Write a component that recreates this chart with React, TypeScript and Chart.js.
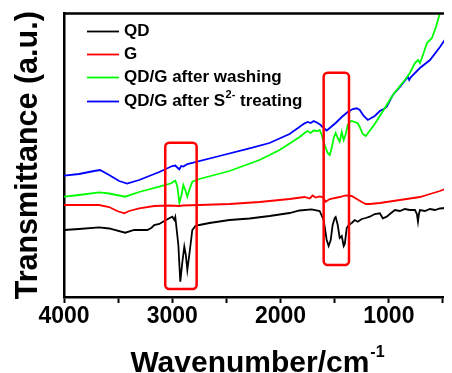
import React, { useEffect, useRef } from "react";
import { Chart, registerables } from "chart.js";

Chart.register(...registerables);

// ---------- data (wavenumber in cm-1, transmittance in arbitrary units) ----------
const tickValues = [4000, 3500, 3000, 2500, 2000, 1500, 1000, 500];
const majorTicks = [4000, 3000, 2000, 1000];

const qdWavenumber = [4000, 3861, 3676, 3583, 3435, 3352, 3231, 3194, 3167, 3120, 3074, 3028, 3000, 2981, 2972, 2954, 2944, 2926, 2907, 2889, 2875, 2861, 2843, 2815, 2787, 2750, 2657, 2472, 2287, 2102, 1917, 1824, 1713, 1639, 1602, 1574, 1556, 1537, 1519, 1500, 1491, 1472, 1454, 1435, 1417, 1407, 1389, 1370, 1343, 1315, 1287, 1250, 1213, 1176, 1130, 1083, 1056, 1019, 991, 944, 898, 852, 806, 759, 741, 731, 722, 713, 667, 620, 574, 528, 481, 426];
const qdSignal = [67, 68, 69.7, 68.5, 64.3, 67, 67, 69, 72, 73, 76, 78.7, 80.3, 77, 80, 62, 52, 15.3, 35, 50.3, 42, 27, 42, 67, 71, 72, 74, 77, 78.5, 81, 84, 86.5, 87.7, 86, 77, 57, 51, 57, 72, 79, 80, 72, 59, 61, 51, 53, 69, 72, 74, 77, 75.3, 78, 79, 80.3, 83, 83.7, 78.7, 80.3, 83, 87, 86, 88, 87, 87, 83, 75.3, 83, 87, 86, 88, 87, 88.5, 89, 88.7];

const gWavenumber = [4000, 3861, 3676, 3583, 3509, 3444, 3398, 3306, 3167, 3028, 2935, 2907, 2750, 2472, 2194, 1917, 1778, 1731, 1704, 1676, 1639, 1611, 1583, 1546, 1454, 1398, 1343, 1296, 1250, 1213, 1176, 1083, 898, 713, 620, 528, 481, 426];
const gSignal = [92, 92, 92, 90, 86, 83.7, 86, 88.7, 91, 91.5, 91, 91.5, 92, 93, 95, 98, 100, 98.5, 101.5, 99.5, 100.5, 100, 95.3, 98, 100, 101.5, 101, 98, 95, 93, 93, 94, 97, 100, 103, 106, 108, 113];

const washWavenumber = [4000, 3861, 3676, 3583, 3435, 3306, 3120, 3009, 2981, 2972, 2954, 2935, 2917, 2898, 2880, 2861, 2843, 2815, 2750, 2472, 2194, 2009, 1824, 1778, 1750, 1722, 1694, 1657, 1639, 1620, 1593, 1565, 1546, 1528, 1509, 1491, 1472, 1454, 1435, 1417, 1398, 1380, 1361, 1343, 1315, 1287, 1269, 1241, 1213, 1130, 1037, 963, 898, 852, 806, 759, 731, 713, 685, 648, 602, 565, 528, 500];
const washSignal = [100.3, 102, 104.7, 103.5, 100.3, 105, 110.3, 113.7, 116, 116.3, 111, 94.3, 101, 112, 107, 100.3, 107, 115.3, 118, 126, 137, 147, 160, 164, 166, 164, 166.5, 166, 167, 162, 152, 144, 142, 149, 159, 164, 159, 155.3, 165, 157, 163, 172, 175, 176, 175, 173.7, 170, 163, 161, 173, 189, 202, 211, 217, 224, 234, 237, 234, 242, 254, 259, 270, 284, 293];

const s2Wavenumber = [4000, 3861, 3722, 3667, 3583, 3491, 3417, 3306, 3120, 3000, 2972, 2954, 2935, 2917, 2898, 2861, 2806, 2565, 2287, 2102, 1917, 1778, 1750, 1722, 1694, 1657, 1630, 1602, 1574, 1546, 1491, 1435, 1380, 1333, 1296, 1269, 1232, 1194, 1130, 1083, 1037, 1019, 963, 898, 824, 812, 796, 713, 620, 528, 472, 426];
const s2Signal = [121.3, 123, 126, 127, 122, 116, 113.5, 117, 125, 131, 131.5, 129.5, 127.7, 131, 130.5, 133, 134.3, 141, 148.7, 154, 163, 173.7, 175, 174, 176, 174, 172, 169, 166.5, 169, 174, 180, 185, 188, 188.7, 187, 181, 177, 181, 186, 188.7, 190.3, 202, 210, 220, 217, 220, 229, 237, 250, 259, 269];

const seriesNames = ["QD", "G", "QD/G after washing", "QD/G after S"];
const seriesSup = ["", "", "", "2-"];
const seriesTail = ["", "", "", " treating"];
const seriesColors = ["#000000", "#ff0000", "#00ff00", "#0000ff"];

// highlighted regions (wavenumber range, transmittance range)
const boxWnFrom = [3065, 1602];
const boxWnTo = [2775, 1368];
const boxTop = [154.3, 224.3];
const boxBottom = [8, 32];

const xTitleMain = "Wavenumber/cm";
const xTitleSup = "-1";
const yTitle = "Transmittance (a.u.)";

const FONT = '"Liberation Sans", Arial, Helvetica, sans-serif';

const overlayPlugin = {
  id: "overlay",
  afterDatasetsDraw(chart: any) {
    const { ctx, chartArea: a, scales } = chart;
    const xs = scales.x;
    const ys = scales.y;
    ctx.save();
    // red boxes
    ctx.strokeStyle = "#ff0000";
    ctx.lineWidth = 2.5;
    for (let i = 0; i < boxWnFrom.length; i++) {
      const x1 = xs.getPixelForValue(boxWnFrom[i]);
      const x2 = xs.getPixelForValue(boxWnTo[i]);
      const y1 = ys.getPixelForValue(boxTop[i]);
      const y2 = ys.getPixelForValue(boxBottom[i]);
      ctx.beginPath();
      ctx.roundRect(Math.min(x1, x2), y1, Math.abs(x2 - x1), y2 - y1, 4);
      ctx.stroke();
    }
    // top & right frame
    ctx.strokeStyle = "#000";
    ctx.lineWidth = 2.5;
    ctx.beginPath();
    ctx.moveTo(a.left, a.top);
    ctx.lineTo(a.right, a.top);
    ctx.stroke();
    ctx.strokeStyle = "#777";
    ctx.lineWidth = 1.2;
    ctx.beginPath();
    ctx.moveTo(a.right, a.top);
    ctx.lineTo(a.right, a.bottom);
    ctx.stroke();

    // legend
    const rows = [22.5, 45.5, 68.5, 92.5];
    ctx.textBaseline = "alphabetic";
    ctx.textAlign = "left";
    for (let i = 0; i < seriesNames.length; i++) {
      const by = a.top + rows[i];
      ctx.strokeStyle = seriesColors[i];
      ctx.lineWidth = 1.8;
      ctx.beginPath();
      ctx.moveTo(a.left + 23, by - 4.5);
      ctx.lineTo(a.left + 55, by - 4.5);
      ctx.stroke();
      ctx.fillStyle = "#000";
      ctx.font = "bold 17px " + FONT;
      let tx = a.left + 60;
      ctx.fillText(seriesNames[i], tx, by);
      tx += ctx.measureText(seriesNames[i]).width;
      if (seriesSup[i]) {
        ctx.font = "bold 11px " + FONT;
        ctx.fillText(seriesSup[i], tx + 0.5, by - 8);
        tx += ctx.measureText(seriesSup[i]).width + 0.5;
      }
      if (seriesTail[i]) {
        ctx.font = "bold 17px " + FONT;
        ctx.fillText(seriesTail[i], tx, by);
      }
    }

    // x-axis title with superscript
    ctx.fillStyle = "#000";
    ctx.font = "bold 30px " + FONT;
    const wMain = ctx.measureText(xTitleMain).width;
    ctx.font = "bold 16px " + FONT;
    const wSup = ctx.measureText(xTitleSup).width;
    const cx = (a.left + a.right) / 2;
    const sx = cx - (wMain + wSup + 1) / 2;
    const base = a.bottom + 75;
    ctx.font = "bold 30px " + FONT;
    ctx.fillText(xTitleMain, sx, base);
    ctx.font = "bold 16px " + FONT;
    ctx.fillText(xTitleSup, sx + wMain + 1, base - 15);
    ctx.restore();
  },
};

function toPoints(xs: number[], ys: number[]) {
  return xs.map((x, i) => ({ x, y: ys[i] }));
}

export default function App() {
  const ref = useRef<HTMLCanvasElement | null>(null);
  useEffect(() => {
    document.documentElement.style.overflow = "hidden";
    document.body.style.overflow = "hidden";
    const canvas = ref.current;
    if (!canvas) return;
    const datasets = [
      toPoints(qdWavenumber, qdSignal),
      toPoints(gWavenumber, gSignal),
      toPoints(washWavenumber, washSignal),
      toPoints(s2Wavenumber, s2Signal),
    ].map((data, i) => ({
      label: seriesNames[i] + seriesSup[i] + seriesTail[i],
      data,
      borderColor: seriesColors[i],
      backgroundColor: seriesColors[i],
      borderWidth: 1.8,
      pointRadius: 0,
      tension: 0,
      fill: false,
    }));
    const chart = new Chart(canvas, {
      type: "line",
      data: { datasets },
      options: {
        animation: false,
        responsive: false,
        maintainAspectRatio: false,
        layout: { padding: { top: 5.5, right: 1, bottom: 0, left: 0 } },
        plugins: { legend: { display: false }, tooltip: { enabled: false } },
        scales: {
          x: {
            type: "linear",
            reverse: true,
            min: 426,
            max: 4000,
            afterBuildTicks: (s: any) => {
              s.ticks = tickValues.map((v) => ({ value: v }));
            },
            afterFit: (s: any) => {
              s.height = 76;
            },
            border: { display: true, color: "#000", width: 2.5 },
            grid: {
              display: true,
              drawOnChartArea: false,
              drawTicks: true,
              tickLength: 6,
              tickWidth: 2,
              tickColor: "#000",
            },
            ticks: {
              autoSkip: false,
              maxRotation: 0,
              minRotation: 0,
              padding: 0,
              color: "#000",
              font: { family: FONT, size: 23, weight: "bold" },
              callback: (v: any) => (majorTicks.includes(Number(v)) ? String(v) : ""),
            },
          },
          y: {
            type: "linear",
            min: 0,
            max: 283.5,
            afterFit: (s: any) => {
              s.width = 56;
            },
            border: { display: true, color: "#000", width: 2.5 },
            grid: { display: false },
            ticks: { display: false },
            title: {
              display: true,
              text: yTitle,
              color: "#000",
              padding: { top: 2, bottom: 0 },
              font: { family: FONT, size: 30.5, weight: "bold", lineHeight: 1.2 },
            },
          },
        },
      },
      plugins: [overlayPlugin],
    } as any);
    return () => chart.destroy();
  }, []);
  return (
    <div style={{ width: 444, height: 365 }}>
      <canvas ref={ref} width={444} height={365} style={{ display: "block", width: 444, height: 365 }} />
    </div>
  );
}
